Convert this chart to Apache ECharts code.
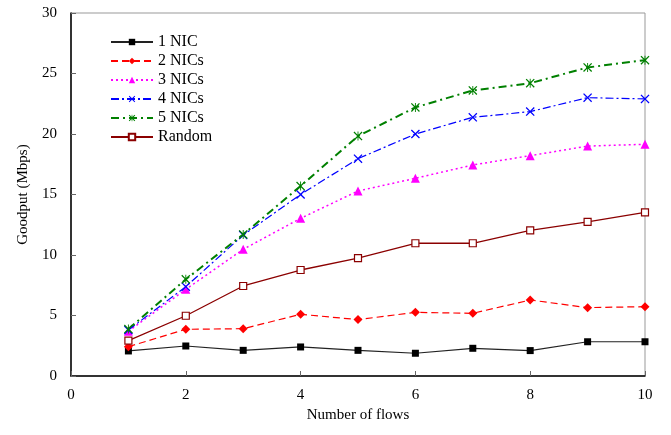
<!DOCTYPE html>
<html><head><meta charset="utf-8">
<script src="https://cdn.jsdelivr.net/npm/echarts@6/dist/echarts.min.js"></script>
<style>html,body{margin:0;padding:0;background:#fff}#c{width:671px;height:435px}</style>
</head><body><div id="c"></div>
<script>
const flows = [1,2,3,4,5,6,7,8,9,10];
const nic1 = [2.07,2.48,2.12,2.4,2.12,1.88,2.29,2.1,2.83,2.83];
const nic2 = [2.42,3.86,3.91,5.1,4.66,5.26,5.18,6.28,5.65,5.73];
const nic3 = [3.7,7.16,10.47,13.03,15.29,16.34,17.44,18.21,19.0,19.15];
const nic4 = [3.8,7.38,11.65,15.0,17.96,20.0,21.38,21.85,23.0,22.9];
const nic5 = [3.88,7.99,11.7,15.7,19.83,22.2,23.6,24.2,25.5,26.1];
const random = [2.92,4.98,7.44,8.76,9.75,10.97,10.97,12.04,12.73,13.53];
const names = ['1 NIC','2 NICs','3 NICs','4 NICs','5 NICs','Random'];
const xTicks = [0,2,4,6,8,10];
const yTicks = [0,5,10,15,20,25,30];

const font = 'Liberation Serif, Times New Roman, serif';
const X = 'path://M0,1L1,0L5,4L9,0L10,1L6,5L10,9L9,10L5,6L1,10L0,9L4,5Z';
const AST = 'path://M0,1L1,0L5,4L9,0L10,1L6,5L10,9L9,10L5,6L1,10L0,9L4,5Z M4.5,0L5.5,0L5.5,10L4.5,10Z';
const pair = a => a.map((v,i)=>[flows[i],v]);

function s(name, data, color, lineType, width, symbol, size, extra) {
  return Object.assign({
    name, type:'line', data: pair(data), symbol, symbolSize: size,
    lineStyle:{color, type:lineType, width},
    itemStyle:{color, borderColor:color, borderWidth:0},
    animation:false
  }, extra||{});
}

const chart = echarts.init(document.getElementById('c'));
chart.setOption({
  backgroundColor:'#fff',
  animation:false,
  grid:{left:71,right:26,top:13,bottom:59,show:true,borderColor:'#999',borderWidth:1},
  legend:{
    orient:'vertical', left:105, top:29, itemGap:3, itemWidth:42, itemHeight:8,
    textStyle:{fontFamily:font,fontSize:16,color:'#000'},
    data:names
  },
  xAxis:{
    type:'value', min:0, max:10, interval:2,
    name:'Number of flows', nameLocation:'middle', nameGap:30,
    nameTextStyle:{fontFamily:font,fontSize:15,color:'#000'},
    axisLine:{lineStyle:{color:'#000',width:1.5}},
    axisTick:{inside:true,length:5,lineStyle:{color:'#666'}},
    axisLabel:{fontFamily:font,fontSize:15,color:'#000',margin:12},
    splitLine:{show:false}
  },
  yAxis:{
    type:'value', min:0, max:30, interval:5,
    name:'Goodput (Mbps)', nameLocation:'middle', nameGap:40,
    nameTextStyle:{fontFamily:font,fontSize:15,color:'#000'},
    axisLine:{show:true,lineStyle:{color:'#000',width:1.5}},
    axisTick:{show:true,inside:true,length:5,lineStyle:{color:'#666'}},
    axisLabel:{fontFamily:font,fontSize:15,color:'#000',margin:14},
    splitLine:{show:false}
  },
  series:[
    s(names[0], nic1, '#000', 'solid', 1.2, 'rect', 7, {lineStyle:{color:'#222',width:1.2}}),
    s(names[1], nic2, '#ff0000', [7,4], 1.2, 'diamond', 9),
    s(names[2], nic3, '#ff00ff', [2,3], 1.5, 'triangle', 9),
    s(names[3], nic4, '#0000ff', [8,3,2,3], 1.2, X, 9),
    s(names[4], nic5, '#008000', [8,4,2,4], 2, AST, 9),
    s(names[5], random, '#8b0000', 'solid', 1.3, 'rect', 7, {
      itemStyle:{color:'#fff',borderColor:'#8b0000',borderWidth:1.2}
    })
  ]
});
</script></body></html>
